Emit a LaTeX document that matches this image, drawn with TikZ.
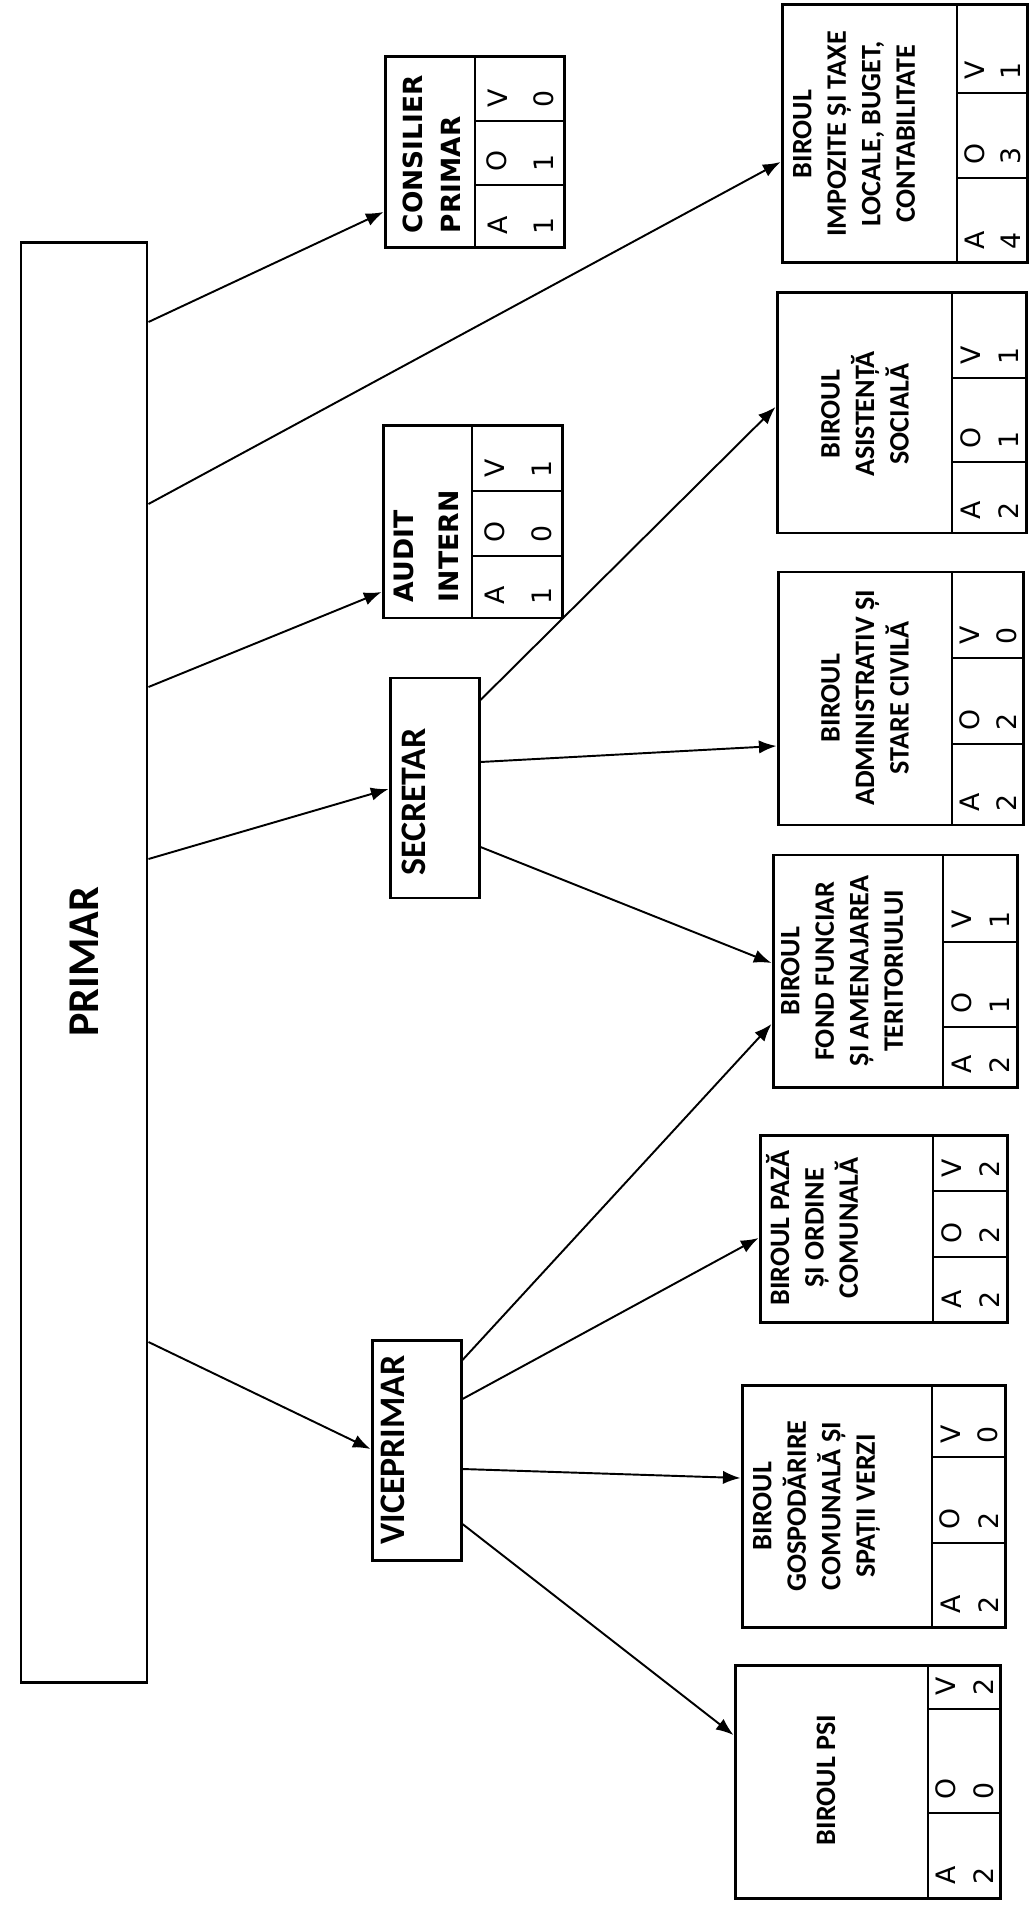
\documentclass[tikz,border=0pt]{standalone}
\usepackage{fontspec}
\setmainfont{Carlito}
\newfontfamily\dejavu{DejaVu Sans}
\usetikzlibrary{arrows.meta,fit}
\begin{document}
\begin{tikzpicture}[x=0.01cm, y=-0.01cm, >={Latex[length=5pt,width=3.8pt]}, line width=0.55pt,
		cutie/.style={draw, line width=0.85pt, inner sep=0pt},
		titlu/.style={rotate=90, align=center, inner sep=0pt, font=\bfseries\fontsize{8}{9.8}\selectfont},
		sef/.style={rotate=90, inner sep=0pt, font=\bfseries\fontsize{10.2}{12}\selectfont},
		mic/.style={rotate=90, align=left, anchor=north west, inner sep=0pt, font=\dejavu\bfseries\fontsize{7.5}{10.8}\selectfont},
		cifra/.style={rotate=90, anchor=west, inner sep=0pt, font=\dejavu\fontsize{7.6}{9}\selectfont}]
	\useasboundingbox (0,0) rectangle (1032,1907);
	
	% 1. 主框 (primar, secretar, viceprimar)
	\node[cutie, fit={(21,243) (147,1682)}] (primar) {};
	\node[cutie, fit={(390,678) (479,898)}] (secretar) {};
	\node[cutie, fit={(372,1340) (461,1560)}] (viceprimar) {};
	\node[sef, font=\bfseries\fontsize{12.5}{15}\selectfont] (t-primar) at (84,962) {PRIMAR};
	\node[sef] (t-secretar) at (414,802) {SECRETAR};
	\node[sef] (t-viceprimar) at (393,1450) {VICEPRIMAR};
	
	% 2. 各办公室框 + A/O/V 表格
	\foreach \n/\xa/\ya/\xb/\yb/\xs/\yv/\yo/\na/\no/\nv in {
			consilier/385/57/564/248/475/121/185/1/1/0,
			audit/383/426/562/618/472/491/556/1/0/1,
			impozite/782/5/1027/263/957/93/178/4/3/1,
			asistenta/777/293/1026/533/952/378/462/2/1/1,
			administrativ/778/572/1023/825/952/658/744/2/2/0,
			fond/773/855/1017/1087/943/942/1027/2/1/1,
			paza/760/1135/1007/1322/933/1191/1257/2/2/2,
			gospodarire/742/1385/1005/1627/932/1457/1543/2/2/0,
			psi/735/1665/1000/1898/928/1709/1813/2/0/2}{
		\node[cutie, fit={(\xa,\ya) (\xb,\yb)}] (\n) {};
		\draw[line width=0.65pt] (\xs,\ya) -- (\xs,\yb) (\xs,\yv) -- (\xb,\yv) (\xs,\yo) -- (\xb,\yo);
		\node[cifra] (\n-lv) at ({\xs+0.25*(\xb-\xs)},\yv-13) {V};
		\node[cifra] (\n-lo) at ({\xs+0.25*(\xb-\xs)},\yo-13) {O};
		\node[cifra] (\n-la) at ({\xs+0.25*(\xb-\xs)},\yb-13) {A};
		\node[cifra] (\n-cv) at ({\xs+0.77*(\xb-\xs)},\yv-13) {\nv};
		\node[cifra] (\n-co) at ({\xs+0.77*(\xb-\xs)},\yo-13) {\no};
		\node[cifra] (\n-ca) at ({\xs+0.77*(\xb-\xs)},\yb-13) {\na};
	}
	
	% 3. 框内标题
	\node[mic] (t-consilier) at (402,234) {CONSILIER\\PRIMAR};
	\node[mic, font=\dejavu\bfseries\fontsize{7.6}{12.8}\selectfont] (t-audit) at (393,603) {AUDIT\\INTERN};
	\node[titlu, anchor=north] (t-impozite) at (792,134) {BIROUL\\IMPOZITE ȘI TAXE\\LOCALE, BUGET,\\CONTABILITATE};
	\node[titlu] (t-asistenta) at (865,414) {BIROUL\\ASISTENȚĂ\\SOCIALĂ};
	\node[titlu] (t-administrativ) at (865,698) {BIROUL\\ADMINISTRATIV ȘI\\STARE CIVILĂ};
	\node[titlu, anchor=north] (t-fond) at (780,971) {BIROUL\\FOND FUNCIAR\\ȘI AMENAJAREA\\TERITORIULUI};
	\node[titlu, anchor=north] (t-paza) at (765,1228) {BIROUL PAZĂ\\ȘI ORDINE\\COMUNALĂ};
	\node[titlu, anchor=north] (t-gospodarire) at (752,1506) {BIROUL\\GOSPODĂRIRE\\COMUNALĂ ȘI\\SPAȚII VERZI};
	\node[titlu] (t-psi) at (826,1780) {BIROUL PSI};
	
	% 4. 连接箭头 (起点 y / 终点 y)
	\foreach \src/\ys/\dst/\yd in {primar/322/consilier/212, primar/504/impozite/162,
			primar/687/audit/592, primar/859/secretar/789, primar/1342/viceprimar/1449,
			secretar/700/asistenta/407, secretar/762/administrativ/746, secretar/847/fond/963,
			viceprimar/1360/fond/1024, viceprimar/1399/paza/1238,
			viceprimar/1469/gospodarire/1478, viceprimar/1524/psi/1735}
		\draw[->] (\src.east |- 0,\ys) -- (\dst.west |- 0,\yd);
\end{tikzpicture}
\end{document}
